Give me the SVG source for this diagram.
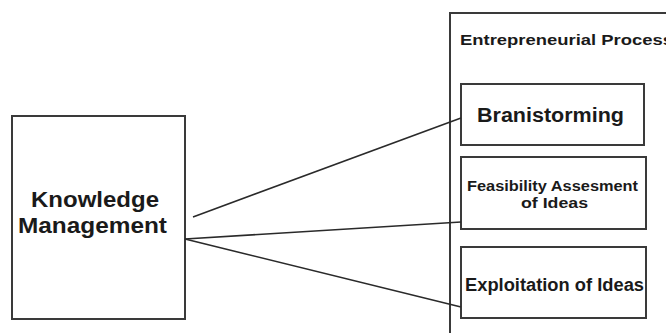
<svg xmlns="http://www.w3.org/2000/svg" width="666" height="333" viewBox="0 0 666 333">
<style>
.box{fill:#fff;stroke:#3a3a3a;stroke-width:2}
.t{font-family:"Liberation Sans",Arial,sans-serif;font-weight:bold;fill:#1a1a1a}
.ln{stroke:#2a2a2a;stroke-width:1.6;fill:none}
</style>
<rect width="666" height="333" fill="#fff"/>
<g id="entrepreneurial-process">
<rect class="box" x="450" y="13" width="300" height="400"/>
<text class="t" x="460" y="45" font-size="15.5" textLength="213" lengthAdjust="spacingAndGlyphs">Entrepreneurial Process</text>
</g>
<g id="knowledge-management">
<rect class="box" x="12" y="116" width="173" height="203"/>
<text class="t" x="31" y="207" font-size="22" textLength="128" lengthAdjust="spacingAndGlyphs">Knowledge</text>
<text class="t" x="18" y="233" font-size="22" textLength="149" lengthAdjust="spacingAndGlyphs">Management</text>
</g>
<g id="brainstorming">
<rect class="box" x="461" y="84" width="183" height="61"/>
<text class="t" x="477" y="122" font-size="19.5" textLength="147" lengthAdjust="spacingAndGlyphs">Branistorming</text>
</g>
<g id="feasibility">
<rect class="box" x="461" y="157" width="185" height="72"/>
<text class="t" x="467" y="191" font-size="14.5" textLength="171" lengthAdjust="spacingAndGlyphs">Feasibility Assesment</text>
<text class="t" x="521" y="208" font-size="14.5" textLength="67" lengthAdjust="spacingAndGlyphs">of Ideas</text>
</g>
<g id="exploitation">
<rect class="box" x="461" y="247" width="185" height="71"/>
<text class="t" x="465" y="291" font-size="18" textLength="179" lengthAdjust="spacingAndGlyphs">Exploitation of Ideas</text>
</g>
<g id="connectors">
<line class="ln" x1="193" y1="217" x2="461" y2="118"/>
<line class="ln" x1="185" y1="239" x2="461" y2="222"/>
<line class="ln" x1="185" y1="239" x2="461" y2="307"/>
</g>
</svg>
